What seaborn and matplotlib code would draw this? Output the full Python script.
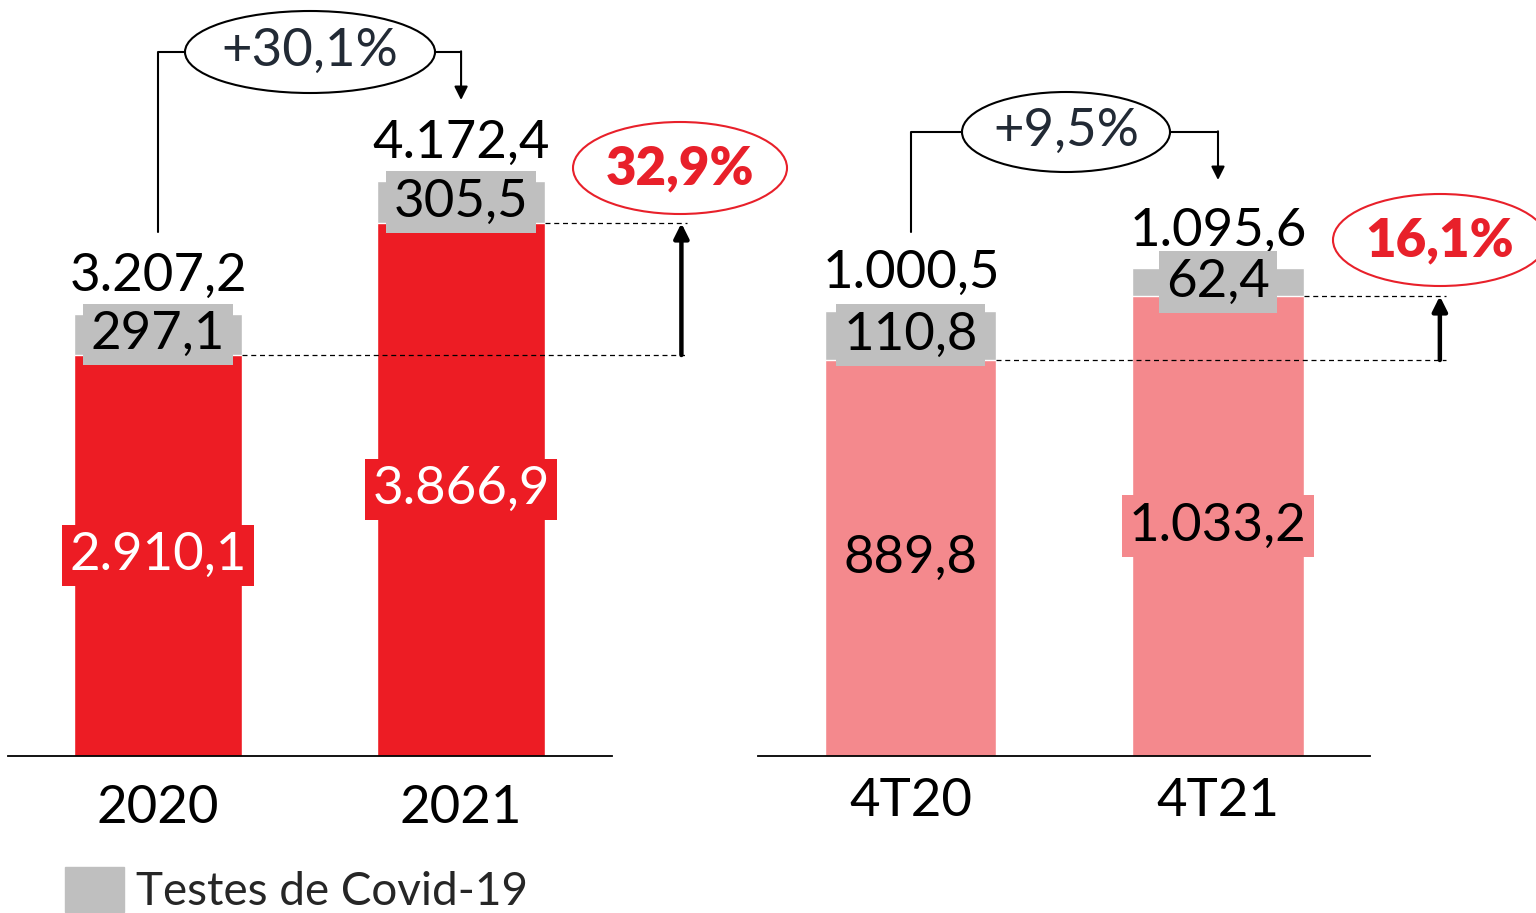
import numpy as np
import pandas as pd
import matplotlib
matplotlib.use("Agg")
import matplotlib.pyplot as plt
import seaborn as sns
from matplotlib.patches import Ellipse, Patch

# ---------------- data ----------------
annual_cats = ["2020", "2021"]
annual_base = [2910.1, 3866.9]
annual_covid = [297.1, 305.5]
annual_total = [3207.2, 4172.4]
annual_growth = "+30,1%"
annual_base_growth = "32,9%"

quarter_cats = ["4T20", "4T21"]
quarter_base = [889.8, 1033.2]
quarter_covid = [110.8, 62.4]
quarter_total = [1000.5, 1095.6]
quarter_growth = "+9,5%"
quarter_base_growth = "16,1%"

legend_label = "Testes de Covid-19"

# ---------------- style ----------------
RED = "#ED1C24"
PINK = "#F4898D"
GREY = "#BFBFBF"
RING = "#E8202A"
DARK = "#222A35"
W, H = 1536, 913

sns.set_theme(style="white")
plt.rcParams["font.family"] = ["Lato", "DejaVu Sans"]


def br(v):
    s = f"{v:,.1f}"
    return s.replace(",", "X").replace(".", ",").replace("X", ".")


fig = plt.figure(figsize=(W / 100, H / 100), dpi=100)
axL = fig.add_axes([8 / W, (H - 756) / H, 604 / W, 756 / H])
axR = fig.add_axes([758 / W, (H - 756) / H, 612 / W, 756 / H])
ov = fig.add_axes([0, 0, 1, 1], zorder=10)
ov.set_xlim(0, W)
ov.set_ylim(H, 0)
ov.axis("off")

VAL_FS = 38


def panel(ax, cats, base, covid, total, base_color, base_txt, width, xlim, ymax,
          tick_pad, label_off):
    df = pd.DataFrame({"cat": cats, "base": base, "total": total})
    sns.barplot(data=df, x="cat", y="total", color=GREY, width=width,
                saturation=1, errorbar=None, ax=ax)
    sns.barplot(data=df, x="cat", y="base", color=base_color, width=width,
                saturation=1, errorbar=None, ax=ax)
    ax.set_xlim(*xlim)
    ax.set_ylim(0, ymax)
    for s in ["top", "right", "left"]:
        ax.spines[s].set_visible(False)
    ax.spines["bottom"].set_color("black")
    ax.spines["bottom"].set_linewidth(1.3)
    ax.set_yticks([])
    ax.set_xlabel("")
    ax.set_ylabel("")
    ax.tick_params(axis="x", length=0, pad=tick_pad, labelsize=VAL_FS, labelcolor="black")
    for i in range(len(cats)):
        ax.annotate(br(total[i]), xy=(i, total[i]), xytext=(0, label_off),
                    textcoords="offset points", ha="center", va="center",
                    fontsize=VAL_FS, color="black")
        ax.text(i, (base[i] + total[i]) / 2, br(covid[i]), ha="center", va="center",
                fontsize=VAL_FS, color="black",
                bbox=dict(boxstyle="square,pad=0.14", fc=GREY, ec="none"))
        ax.text(i, base[i] / 2, br(base[i]), ha="center", va="center",
                fontsize=VAL_FS, color=base_txt,
                bbox=dict(boxstyle="square,pad=0.14", fc=base_color, ec="none"))
    # dashed reference lines and growth arrow
    x_end = 1 + (xlim[1] - 1) * 1.5
    for i in range(len(cats)):
        ax.plot([i + width / 2, x_end], [base[i], base[i]], ls=(0, (4, 3)),
                color="black", lw=0.9, clip_on=False)
    xa = x_end - 0.02
    ax.annotate("", xy=(xa, base[1]), xytext=(xa, base[0]), annotation_clip=False,
                arrowprops=dict(arrowstyle="-|>", lw=3.2, color="black",
                                mutation_scale=22, shrinkA=0, shrinkB=0))


panel(axL, annual_cats, annual_base, annual_covid, annual_total, RED, "white",
      0.555, (-0.495, 1.498), 5486.6, 21, 27)
panel(axR, quarter_cats, quarter_base, quarter_covid, quarter_total, PINK, "black",
      0.557, (-0.498, 1.495), 1698.7, 16, 27)


def px(ax, x):
    d = ax.transData.transform((x, 0))
    return d[0]


def bracket(ax, xc_ell, y_top, ell_w, ell_h, text, y_start):
    x0 = px(ax, 0)
    x1 = px(ax, 1)
    ov.plot([x0, x0, xc_ell - ell_w / 2], [y_start, y_top, y_top], color="black", lw=1.5)
    ov.plot([xc_ell + ell_w / 2, x1], [y_top, y_top], color="black", lw=1.5)
    ov.annotate("", xy=(x1, y_top + 48), xytext=(x1, y_top - 0.7),
                arrowprops=dict(arrowstyle="-|>", lw=1.5, color="black",
                                mutation_scale=20, shrinkA=0, shrinkB=0))
    ov.add_patch(Ellipse((xc_ell, y_top), ell_w, ell_h, fc="white", ec="black", lw=1.5))
    ov.text(xc_ell, y_top - 1, text, ha="center", va="center", fontsize=38, color=DARK)


bracket(axL, 310, 52, 250, 82, annual_growth, 232)
bracket(axR, 1066, 132, 208, 80, quarter_growth, 232)

for (cx, cy, txt) in [(680, 168, annual_base_growth), (1440, 240, quarter_base_growth)]:
    ov.add_patch(Ellipse((cx, cy), 214, 92, fc="white", ec=RING, lw=1.5, clip_on=False))
    ov.text(cx, cy + 1, txt, ha="center", va="center", fontsize=38,
            fontweight="heavy", color=RING)

fig.legend(handles=[Patch(color=GREY, label=legend_label)], loc="lower left",
           bbox_to_anchor=(47 / W, -0.02), frameon=False, fontsize=33,
           handlelength=1.29, handleheight=1.11, handletextpad=0.25,
           borderaxespad=0)

fig.savefig("out.png", dpi=100)
